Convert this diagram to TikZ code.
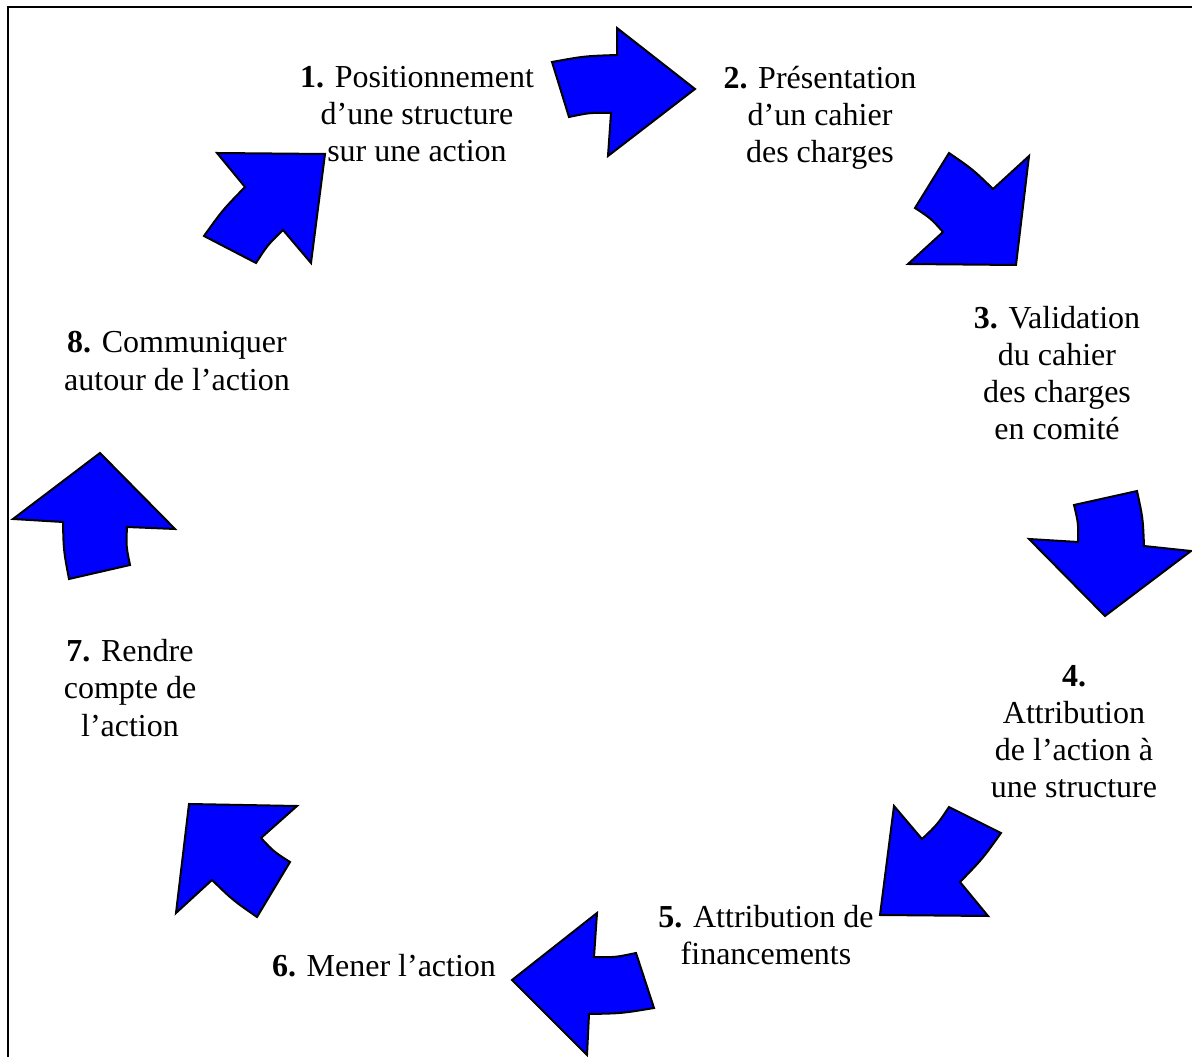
\documentclass[tikz,border=0pt]{standalone}
\usepackage{fontspec}
\setmainfont{Liberation Serif}
\usetikzlibrary{calc}
\definecolor{arrowblue}{RGB}{0,0,255}
\tikzset{
  bigarrow/.style={draw=black, line width=0.75pt, fill=arrowblue, line join=miter},
  frameline/.style={draw=black, line width=0.95pt},
  steplabel/.style={align=center, inner sep=0pt, font=\fontsize{12}{13.9}\selectfont}
}
\begin{document}
\begin{tikzpicture}[x=0.375pt, y=-0.375pt]
\useasboundingbox (0,0) rectangle (1192,1057);
\coordinate (C) at (600,540);
% frame (only top and left visible)
\draw[frameline] (8,1057) -- (8,7) -- (1192,7);

% arrow 1 -> 2
\draw[bigarrow] (552,62) .. controls ($(552,62)!.5!(617,55)!-0.9pt!(C)$) .. (617,55)
  -- (617,28) -- (695,89) -- (608,156) -- (611,113)
  .. controls ($(611,113)!.5!(569,117)!-0.9pt!(C)$) .. (569,117) -- cycle;
% arrow 2 -> 3
\draw[bigarrow] (949,153) .. controls ($(949,153)!.5!(993,189)!-0.9pt!(C)$) .. (993,189)
  -- (1029,156) -- (1016,265) -- (908,264) -- (943,232)
  .. controls ($(943,232)!.5!(915,208)!-0.9pt!(C)$) .. (915,208) -- cycle;
% arrow 3 -> 4
\draw[bigarrow] (1074,505) -- (1137,491)
  .. controls ($(1137,491)!.5!(1144,546)!-0.9pt!(C)$) .. (1144,546)
  -- (1191,551) -- (1105,616) -- (1029,539) -- (1078,542)
  .. controls ($(1078,542)!.5!(1074,505)!-0.9pt!(C)$) .. (1074,505) -- cycle;
% arrow 4 -> 5
\draw[bigarrow] (894,806) -- (922,839)
  .. controls ($(922,839)!.5!(949,807)!-0.9pt!(C)$) .. (949,807)
  -- (1001,833)
  .. controls ($(1001,833)!.5!(960,882)!-0.9pt!(C)$) .. (960,882)
  -- (988,916) -- (880,915) -- cycle;
% arrow 5 -> 6
\draw[bigarrow] (597,913) -- (594,957)
  .. controls ($(594,957)!.5!(636,953)!-0.9pt!(C)$) .. (636,953)
  -- (654,1008)
  .. controls ($(654,1008)!.5!(589,1014)!-0.9pt!(C)$) .. (589,1014)
  -- (587,1055) -- (512,980) -- cycle;
% arrow 6 -> 7
\draw[bigarrow] (189,804) -- (297,806) -- (261,838)
  .. controls ($(261,838)!.5!(290,862)!-0.9pt!(C)$) .. (290,862)
  -- (257,917)
  .. controls ($(257,917)!.5!(212,880)!-0.9pt!(C)$) .. (212,880)
  -- (176,913) -- cycle;
% arrow 7 -> 8
\draw[bigarrow] (100,453) -- (175,529) -- (127,527)
  .. controls ($(127,527)!.5!(130,565)!-0.9pt!(C)$) .. (130,565)
  -- (69,579)
  .. controls ($(69,579)!.5!(63,522)!-0.9pt!(C)$) .. (63,522)
  -- (13,519) -- cycle;
% arrow 8 -> 1
\draw[bigarrow] (217,153) -- (325,154) -- (311,263) -- (283,230)
  .. controls ($(283,230)!.5!(256,263)!-0.9pt!(C)$) .. (256,263)
  -- (204,236)
  .. controls ($(204,236)!.5!(245,187)!-0.9pt!(C)$) .. (245,187) -- cycle;

% labels
\node[steplabel] (s1) at (417,114) {\textbf{1.} Positionnement\\d'une structure\\sur une action};
\node[steplabel] (s2) at (820,118) {\textbf{2.} Présentation\\d'un cahier\\des charges};
\node[steplabel] (s3) at (1057,373) {\textbf{3.} Validation\\du cahier\\des charges\\en comité};
\node[steplabel] (s4) at (1074,732) {\textbf{4.}\\Attribution\\de l'action à\\une structure};
\node[steplabel] (s5) at (766,935) {\textbf{5.} Attribution de\\financements};
\node[steplabel] (s6) at (384,966) {\textbf{6.} Mener l'action};
\node[steplabel] (s7) at (130,688) {\textbf{7.} Rendre\\compte de\\l'action};
\node[steplabel] (s8) at (177,361) {\textbf{8.} Communiquer\\autour de l'action};
\end{tikzpicture}
\end{document}
